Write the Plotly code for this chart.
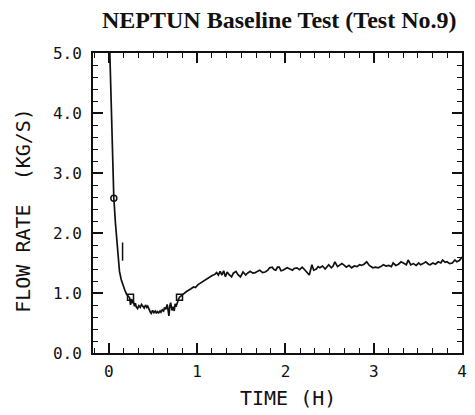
import plotly.graph_objects as go

# ---- data (time in hours, flow rate in kg/s) ----
time_h = [
    0.005, 0.03, 0.056, 0.075, 0.10, 0.12, 0.14, 0.16, 0.18, 0.20,
    0.22, 0.235, 0.245, 0.255, 0.265, 0.275, 0.29, 0.30, 0.31, 0.325,
    0.34, 0.355, 0.37, 0.385, 0.40, 0.415, 0.43, 0.44, 0.455, 0.47,
    0.48, 0.495, 0.51, 0.525, 0.54, 0.55, 0.565, 0.58, 0.59, 0.605,
    0.62, 0.63, 0.645, 0.66, 0.67, 0.68, 0.69, 0.70, 0.715, 0.73,
    0.74, 0.75, 0.76, 0.775, 0.79, 0.80, 0.82, 0.85, 0.875, 0.90,
    0.93, 0.96, 0.98, 1.01, 1.04, 1.07, 1.09, 1.12, 1.15, 1.17,
    1.20, 1.22, 1.24, 1.26, 1.28, 1.30, 1.32, 1.34, 1.36, 1.39,
    1.41, 1.44, 1.46, 1.49, 1.52, 1.55, 1.57, 1.60, 1.63, 1.66,
    1.68, 1.71, 1.74, 1.77, 1.80, 1.82, 1.85, 1.87, 1.89, 1.91,
    1.93, 1.95, 1.97, 2.00, 2.02, 2.05, 2.08, 2.10, 2.13, 2.16,
    2.19, 2.21, 2.23, 2.25, 2.27, 2.30, 2.32, 2.35, 2.37, 2.39,
    2.42, 2.45, 2.47, 2.49, 2.52, 2.54, 2.56, 2.59, 2.61, 2.64,
    2.66, 2.69, 2.72, 2.75, 2.78, 2.81, 2.84, 2.86, 2.89, 2.92,
    2.95, 2.97, 2.99, 3.02, 3.05, 3.08, 3.11, 3.14, 3.17, 3.20,
    3.22, 3.25, 3.28, 3.31, 3.34, 3.37, 3.39, 3.42, 3.45, 3.48,
    3.51, 3.53, 3.56, 3.59, 3.62, 3.64, 3.67, 3.70, 3.73, 3.76,
    3.78, 3.81, 3.83, 3.86, 3.89, 3.92, 3.94, 3.97, 4.00,
]
flow_kgs = [
    5.30, 3.90, 2.58, 2.15, 1.75, 1.36, 1.22, 1.12, 1.05, 0.98,
    0.95, 0.92, 0.80, 0.90, 0.83, 0.88, 0.78, 0.83, 0.77, 0.74,
    0.79, 0.76, 0.81, 0.78, 0.75, 0.80, 0.76, 0.78, 0.72, 0.68,
    0.66, 0.71, 0.67, 0.70, 0.66, 0.69, 0.67, 0.70, 0.68, 0.72,
    0.70, 0.76, 0.73, 0.81, 0.72, 0.62, 0.78, 0.84, 0.71, 0.77,
    0.70, 0.82, 0.77, 0.86, 0.90, 0.93, 0.95, 0.99, 1.02, 1.05,
    1.07, 1.10, 1.09, 1.14, 1.17, 1.20, 1.22, 1.25, 1.27, 1.29,
    1.31, 1.34, 1.30, 1.36, 1.30, 1.37, 1.27, 1.35, 1.31, 1.27,
    1.33, 1.36, 1.31, 1.27, 1.35, 1.30, 1.33, 1.36, 1.33, 1.34,
    1.36, 1.38, 1.34, 1.35, 1.38, 1.42, 1.43, 1.39, 1.38, 1.43,
    1.43, 1.37, 1.38, 1.41, 1.42, 1.40, 1.38, 1.41, 1.42, 1.39,
    1.43, 1.40, 1.36, 1.33, 1.30, 1.47, 1.38, 1.40, 1.44, 1.42,
    1.45, 1.40, 1.43, 1.47, 1.42, 1.45, 1.52, 1.44, 1.46, 1.49,
    1.47, 1.43, 1.46, 1.42, 1.45, 1.44, 1.47, 1.46, 1.48, 1.52,
    1.46, 1.44, 1.42, 1.43, 1.42, 1.44, 1.47, 1.45, 1.46, 1.44,
    1.50, 1.46, 1.48, 1.52, 1.49, 1.47, 1.55, 1.47, 1.49, 1.46,
    1.50, 1.47, 1.49, 1.52, 1.48, 1.47, 1.50, 1.48, 1.52, 1.50,
    1.55, 1.51, 1.52, 1.49, 1.50, 1.55, 1.52, 1.54, 1.60,
]

# open symbols plotted on the curve
circle_t = [0.056]
circle_q = [2.58]
square_t = [0.245, 0.80]
square_q = [0.93, 0.93]
# short vertical bar drawn beside the falling branch
bar_t = [0.155]
bar_q = [1.69]

x_ticks = [0, 1, 2, 3, 4]
x_ticktext = ["0", "1", "2", "3", "4"]
y_ticks = [0, 1, 2, 3, 4, 5]
y_ticktext = ["0.0", "1.0", "2.0", "3.0", "4.0", "5.0"]

title_text = "NEPTUN Baseline Test (Test No.9)"
x_title = "TIME (H)"
y_title = "FLOW RATE\u00a0\u00a0(KG/S)"

INK = "#111111"
MONO = "DejaVu Sans Mono"

fig = go.Figure()
fig.add_trace(go.Scatter(x=time_h, y=flow_kgs, mode="lines",
                         line=dict(color=INK, width=1.7), showlegend=False))
fig.add_trace(go.Scatter(x=circle_t, y=circle_q, mode="markers",
                         marker=dict(symbol="circle-open", size=6, color=INK,
                                     line=dict(width=1.5)), showlegend=False))
fig.add_trace(go.Scatter(x=square_t, y=square_q, mode="markers",
                         marker=dict(symbol="square-open", size=6, color=INK,
                                     line=dict(width=1.5)), showlegend=False))
fig.add_trace(go.Scatter(x=bar_t, y=bar_q, mode="markers",
                         marker=dict(symbol="line-ns", size=13, color=INK,
                                     line=dict(width=1.5, color=INK)), showlegend=False))

axis_common = dict(showline=True, linecolor=INK, linewidth=2, mirror="ticks",
                   ticks="inside", tickcolor=INK, tickwidth=1.5, ticklen=10,
                   showgrid=False, zeroline=False,
                   tickfont=dict(family=MONO, size=16, color=INK))

fig.update_xaxes(range=[-0.18, 4.0], tickvals=x_ticks, ticktext=x_ticktext,
                 ticklabelstandoff=3,
                 minor=dict(ticks="inside", tick0=0, dtick=1/6, ticklen=5,
                            tickwidth=1.2, tickcolor=INK),
                 **axis_common)
fig.update_yaxes(range=[0, 5], tickvals=y_ticks, ticktext=y_ticktext,
                 ticklabelstandoff=6,
                 minor=dict(ticks="inside", tick0=0, dtick=0.2, ticklen=5,
                            tickwidth=1.2, tickcolor=INK),
                 **axis_common)

fig.add_annotation(text="<b>" + title_text + "</b>", xref="paper", yref="paper",
                   x=0.503, y=1.11, xanchor="center", yanchor="middle",
                   showarrow=False, borderpad=0,
                   font=dict(family="Liberation Serif", size=24, color=INK))
fig.add_annotation(text=x_title, xref="paper", yref="paper",
                   x=0.529, y=-0.15, xanchor="center", yanchor="middle",
                   showarrow=False, font=dict(family=MONO, size=20, color=INK))
fig.add_annotation(text=y_title, xref="paper", yref="paper",
                   x=-0.19, y=0.477, xanchor="center", yanchor="middle",
                   textangle=-90, showarrow=False,
                   font=dict(family=MONO, size=20, color=INK))

# the page body adds an 8 px offset, so the figure is sized to fill the rest
fig.update_layout(width=467, height=407,
                  margin=dict(l=85, r=8, t=45, b=62),
                  paper_bgcolor="white", plot_bgcolor="white")

fig.write_html("out.html")
